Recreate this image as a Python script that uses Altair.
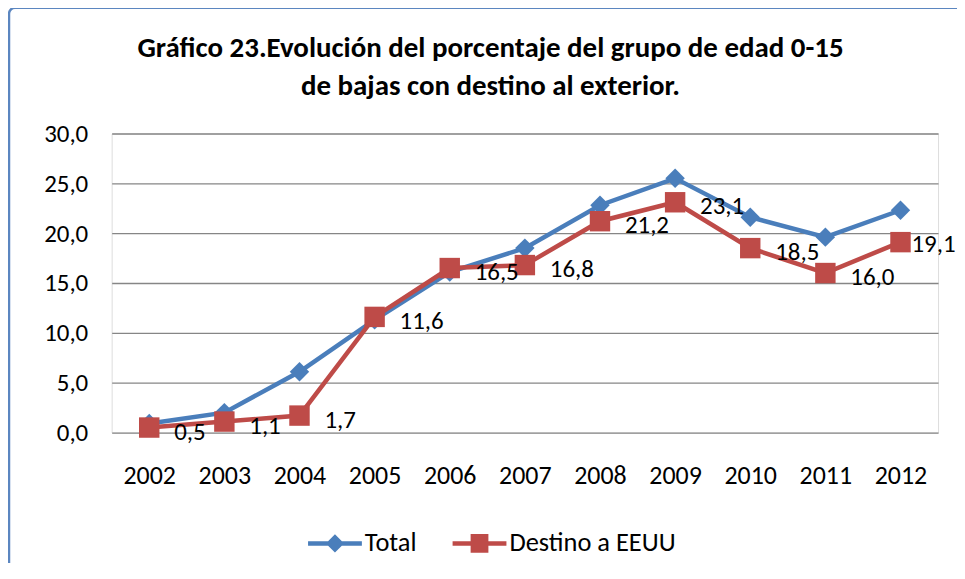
import altair as alt
import pandas as pd

years = ["2002", "2003", "2004", "2005", "2006", "2007", "2008", "2009", "2010", "2011", "2012"]
total = [0.9, 2.0, 6.1, 11.3, 16.1, 18.5, 22.8, 25.5, 21.6, 19.6, 22.3]
eeuu = [0.5, 1.1, 1.7, 11.6, 16.5, 16.8, 21.2, 23.1, 18.5, 16.0, 19.1]
series_names = ["Total", "Destino a EEUU"]
colors = ["#4A7EBB", "#BE4B48"]
title_lines = ["Gráfico 23.Evolución del porcentaje del grupo de edad 0-15",
               "de bajas con destino al exterior."]

FONT = "Carlito, 'Open Sans', sans-serif"
FS = 25

rows = []
for y, v in zip(years, total):
    rows.append({"year": y, "series": series_names[0], "value": v})
for y, v in zip(years, eeuu):
    rows.append({"year": y, "series": series_names[1], "value": v})
df = pd.DataFrame(rows)

x_enc = alt.X("year:O", scale=alt.Scale(type="point", padding=0.5),
              axis=alt.Axis(title=None, labelAngle=0, domain=False, ticks=False, grid=False,
                            labelPadding=30, labelFontSize=26, labelFont=FONT, labelColor="#000"))
y_enc = alt.Y("value:Q", scale=alt.Scale(domain=[0, 30], nice=False, zero=True),
              axis=alt.Axis(title=None, values=[0, 5, 10, 15, 20, 25, 30], domain=False, ticks=False,
                            grid=True, gridColor="#868686", gridWidth=1.3,
                            labelExpr="replace(format(datum.value, '.1f'), '.', ',')",
                            labelPadding=24, labelFontSize=FS, labelFont=FONT, labelColor="#000"))

base = alt.Chart(df)

line_total = base.transform_filter(alt.datum.series == series_names[0]).mark_line(
    color=colors[0], strokeWidth=4.5).encode(x=x_enc, y=y_enc)
line_eeuu = base.transform_filter(alt.datum.series == series_names[1]).mark_line(
    color=colors[1], strokeWidth=4.5).encode(x=x_enc, y=y_enc)
pt_total = base.transform_filter(alt.datum.series == series_names[0]).mark_point(
    shape="diamond", filled=True, color=colors[0], size=380, opacity=1).encode(x=x_enc, y=y_enc)
pt_eeuu = base.transform_filter(alt.datum.series == series_names[1]).mark_point(
    shape="square", filled=True, color=colors[1], size=420, opacity=1).encode(x=x_enc, y=y_enc)

lab_base = base.transform_filter(alt.datum.series == series_names[1]).transform_calculate(
    lab="replace(format(datum.value, '.1f'), '.', ',')")
labels = lab_base.transform_filter(alt.datum.year != years[-1]).mark_text(
    align="left", baseline="middle", dx=25, dy=4, fontSize=FS, font=FONT, color="#000").encode(
    x=x_enc, y=y_enc, text="lab:N")
label_last = lab_base.transform_filter(alt.datum.year == years[-1]).mark_text(
    align="left", baseline="middle", dx=11, dy=2, fontSize=FS, font=FONT, color="#000").encode(
    x=x_enc, y=y_enc, text="lab:N")

path_total = "M-1,-0.085H1V0.085H-1Z M0,-0.34L0.34,0L0,0.34L-0.34,0Z"
path_eeuu = "M-1,-0.085H1V0.085H-1Z M-0.33,-0.35H0.33V0.35H-0.33Z"

leg = dict(title=None, orient="none", legendX=197, legendY=384,
           direction="horizontal", symbolSize=2916, symbolStrokeWidth=0,
           symbolOpacity=1, labelFontSize=26.5, labelFont=FONT, labelLimit=400,
           labelColor="#000", labelOffset=3, columnPadding=36)

legend_layer = base.mark_point(filled=True, opacity=0).encode(
    x=x_enc, y=y_enc,
    color=alt.Color("series:N", scale=alt.Scale(domain=series_names, range=colors),
                    legend=alt.Legend(**leg)),
    shape=alt.Shape("series:N", scale=alt.Scale(domain=series_names, range=[path_total, path_eeuu]),
                    legend=alt.Legend(**leg)),
)

one = pd.DataFrame({"a": [0]})
border = alt.Chart(one).mark_rect(
    fillOpacity=0, stroke="#5B86C0", strokeWidth=2.5, cornerRadius=6
).encode(x=alt.value(-103), x2=alt.value(880), y=alt.value(-126), y2=alt.value(470))

title1 = alt.Chart(one).mark_text(
    text=title_lines[0], fontSize=29, font=FONT, fontWeight="bold", color="#000",
    align="center", baseline="middle"
).encode(x=alt.value(380), y=alt.value(-86))
title2 = alt.Chart(one).mark_text(
    text=title_lines[1], fontSize=29, font=FONT, fontWeight="bold", color="#000",
    align="center", baseline="middle"
).encode(x=alt.value(380), y=alt.value(-48))

chart = alt.layer(border, title1, title2, line_total, line_eeuu, pt_total, pt_eeuu, labels,
                  label_last, legend_layer).properties(
    width=829, height=300,
    autosize=alt.AutoSizeParams(type="none"),
    padding={"left": 104, "top": 125, "right": 19, "bottom": 130},
).configure_view(stroke=None).configure(background="white")

chart.save("out.html", embed_options={"renderer": "svg", "actions": False})
